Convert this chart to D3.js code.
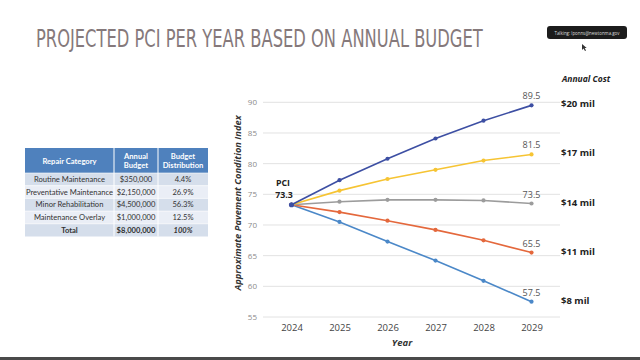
<!DOCTYPE html>
<html><head><meta charset="utf-8">
<script src="https://cdn.jsdelivr.net/npm/d3@7"></script>
<style>html,body{margin:0;padding:0;background:#fff;}svg{display:block;}</style>
</head><body>
<svg id="c" width="640" height="360"></svg>
<script>
// ---- data ----
const years = [2024, 2025, 2026, 2027, 2028, 2029];
const yTicks = [55, 60, 65, 70, 75, 80, 85, 90];
const costLabels = ["$20 mil", "$17 mil", "$14 mil", "$11 mil", "$8 mil"];
const pci20 = [73.3, 77.3, 80.8, 84.1, 87.0, 89.5];
const pci17 = [73.3, 75.6, 77.5, 79.0, 80.5, 81.5];
const pci14 = [73.3, 73.8, 74.1, 74.1, 74.0, 73.5];
const pci11 = [73.3, 72.1, 70.7, 69.2, 67.5, 65.5];
const pci8  = [73.3, 70.5, 67.3, 64.2, 60.9, 57.5];
const seriesColors = ["#3d4fa3", "#f6c433", "#9c9c9c", "#e4683c", "#4b88c8"];

const tableHeaders = [["Repair Category"], ["Annual", "Budget"], ["Budget", "Distribution"]];
const repairCategories = ["Routine Maintenance", "Preventative Maintenance", "Minor Rehabilitation", "Maintenance Overlay"];
const annualBudgets = ["$350,000", "$2,150,000", "$4,500,000", "$1,000,000"];
const budgetDistribution = ["4.4%", "26.9%", "56.3%", "12.5%"];
const totalRow = ["Total", "$8,000,000", "100%"];

const svg = d3.select("#c");
const font = "'Open Sans', 'Noto Sans', sans-serif";

// title (scaled horizontally to the reference width)
const title = svg.append("text").attr("x", 0).attr("y", 0)
  .attr("font-family", "'Liberation Sans Narrow', 'DejaVu Sans Condensed', sans-serif")
  .attr("font-stretch", "condensed")
  .attr("font-size", 25).attr("fill", "#85797b")
  .text("PROJECTED PCI PER YEAR BASED ON ANNUAL BUDGET");
const natural = title.node().getComputedTextLength();
title.attr("transform", `translate(36,47) scale(${447 / natural},1)`);

// tooltip
svg.append("rect").attr("x", 547).attr("y", 26).attr("width", 80).attr("height", 13).attr("rx", 3).attr("fill", "#1c1c1c");
svg.append("text").attr("x", 587).attr("y", 34.5).attr("text-anchor", "middle")
  .attr("font-family", font).attr("font-size", 4.4).attr("fill", "#ddd")
  .text("Talking: lponns@newtonma.gov");
svg.append("path").attr("d", "M582,44 l0,6 l1.5,-1.5 l1.5,2.5 l1,-0.5 l-1.3,-2.4 l2,0 z").attr("fill", "#333");

// bottom bar
svg.append("rect").attr("x", 0).attr("y", 357).attr("width", 640).attr("height", 3).attr("fill", "#4a4a4a");

// ---- chart ----
const x = d3.scaleLinear().domain([2024, 2029]).range([291.5, 531.5]);
const y = d3.scaleLinear().domain([55, 90]).range([317, 102.3]);

const g = svg.append("g");
g.selectAll("line.grid").data(yTicks).join("line").attr("class", "grid")
  .attr("x1", 263).attr("x2", 560).attr("y1", d => y(d)).attr("y2", d => y(d))
  .attr("stroke", "#e2e2e2").attr("stroke-width", 1);

const yAxis = d3.axisLeft(y).tickValues(yTicks).tickSize(0).tickPadding(0);
const ya = g.append("g").attr("transform", "translate(257,0)").call(yAxis);
ya.select(".domain").remove();
ya.selectAll("text").attr("font-family", font).attr("font-size", 8).attr("fill", "#8a8a8a");

const xAxis = d3.axisBottom(x).tickValues(years).tickFormat(d3.format("d")).tickSize(0).tickPadding(0);
const xa = g.append("g").attr("transform", "translate(0,324)").call(xAxis);
xa.select(".domain").remove();
xa.selectAll("text").attr("font-family", font).attr("font-size", 9.5).attr("fill", "#444");

svg.append("text").attr("transform", "translate(241,203) rotate(-90)").attr("text-anchor", "middle")
  .attr("font-family", font).attr("font-size", 9.3).attr("font-weight", "bold").attr("font-style", "italic")
  .attr("fill", "#333").text("Approximate Pavement Condition Index");
svg.append("text").attr("x", 402).attr("y", 346).attr("text-anchor", "middle")
  .attr("font-family", font).attr("font-size", 9.5).attr("font-weight", "bold").attr("font-style", "italic")
  .attr("fill", "#333").text("Year");

const allSeries = [pci8, pci11, pci14, pci17, pci20];
const allColors = [seriesColors[4], seriesColors[3], seriesColors[2], seriesColors[1], seriesColors[0]];
const line = d3.line().x((d, i) => x(years[i])).y(d => y(d));
allSeries.forEach((s, k) => {
  g.append("path").attr("d", line(s)).attr("fill", "none").attr("stroke", allColors[k]).attr("stroke-width", 1.6);
  g.selectAll(null).data(s).join("circle").attr("cx", (d, i) => x(years[i])).attr("cy", d => y(d))
    .attr("r", 2.1).attr("fill", allColors[k]);
});
// start point
g.append("circle").attr("cx", x(years[0])).attr("cy", y(pci20[0])).attr("r", 2.6).attr("fill", seriesColors[0]);

// end labels
const endSeries = [pci20, pci17, pci14, pci11, pci8];
endSeries.forEach((s, k) => {
  const v = s[s.length - 1];
  g.append("text").attr("x", x(years[years.length - 1])).attr("y", y(v) - 6).attr("text-anchor", "middle")
    .attr("font-family", font).attr("font-size", 9).attr("fill", "#555").text(v.toFixed(1));
  g.append("text").attr("x", 561).attr("y", y(v) + 2).attr("font-family", font).attr("font-size", 9.5)
    .attr("font-weight", "bold").attr("fill", "#222").text(costLabels[k]);
});
svg.append("text").attr("x", 562).attr("y", 82).attr("font-family", font).attr("font-size", 8.5)
  .attr("font-weight", "bold").attr("font-style", "italic").attr("fill", "#222").text("Annual Cost");

// PCI start label
svg.append("text").attr("x", 283).attr("y", 186).attr("text-anchor", "middle").attr("font-family", font)
  .attr("font-size", 8.8).attr("font-weight", "bold").attr("fill", "#222").text("PCI");
svg.append("text").attr("x", 284).attr("y", 198).attr("text-anchor", "middle").attr("font-family", font)
  .attr("font-size", 8.8).attr("font-weight", "bold").attr("fill", "#222").text(pci20[0].toFixed(1));

// ---- table ----
const colX = [25, 114, 158, 208];
const headY = 148, headH = 25, rowH = 12.7;
const tg = svg.append("g");
tg.append("rect").attr("x", colX[0]).attr("y", headY).attr("width", colX[3] - colX[0]).attr("height", headH).attr("fill", "#4f81bd");
const tfont = "'Lato', 'Open Sans', sans-serif";
tableHeaders.forEach((h, c) => {
  const cx = (colX[c] + colX[c + 1]) / 2;
  h.forEach((t, j) => {
    tg.append("text").attr("x", cx).attr("y", headY + (h.length === 1 ? 15.5 : 10.5 + j * 9))
      .attr("text-anchor", "middle").attr("font-family", tfont).attr("font-size", 7.6)
      .attr("font-weight", "bold").attr("fill", "#fff").text(t);
  });
});
const rows = repairCategories.map((c, i) => [c, annualBudgets[i], budgetDistribution[i]]);
rows.push(totalRow);
rows.forEach((r, i) => {
  const ry = headY + headH + i * rowH;
  tg.append("rect").attr("x", colX[0]).attr("y", ry).attr("width", colX[3] - colX[0]).attr("height", rowH)
    .attr("fill", i % 2 === 0 ? "#d5deeb" : "#eaeef6");
  r.forEach((t, c) => {
    const cx = (colX[c] + colX[c + 1]) / 2;
    tg.append("text").attr("x", cx).attr("y", ry + 9).attr("text-anchor", "middle")
      .attr("font-family", tfont).attr("font-size", 7.6)
      .attr("font-weight", i === 4 ? "bold" : "normal")
      .attr("font-style", i === 4 && c === 2 ? "italic" : "normal")
      .attr("fill", "#333").text(t);
  });
});
[1, 2].forEach(c => {
  tg.append("line").attr("x1", colX[c]).attr("x2", colX[c]).attr("y1", headY).attr("y2", headY + headH + 5 * rowH)
    .attr("stroke", "#fff").attr("stroke-width", 1);
});
rows.forEach((r, i) => {
  tg.append("line").attr("x1", colX[0]).attr("x2", colX[3]).attr("y1", headY + headH + i * rowH).attr("y2", headY + headH + i * rowH)
    .attr("stroke", "#fff").attr("stroke-width", 0.6);
});
</script>
</body></html>
